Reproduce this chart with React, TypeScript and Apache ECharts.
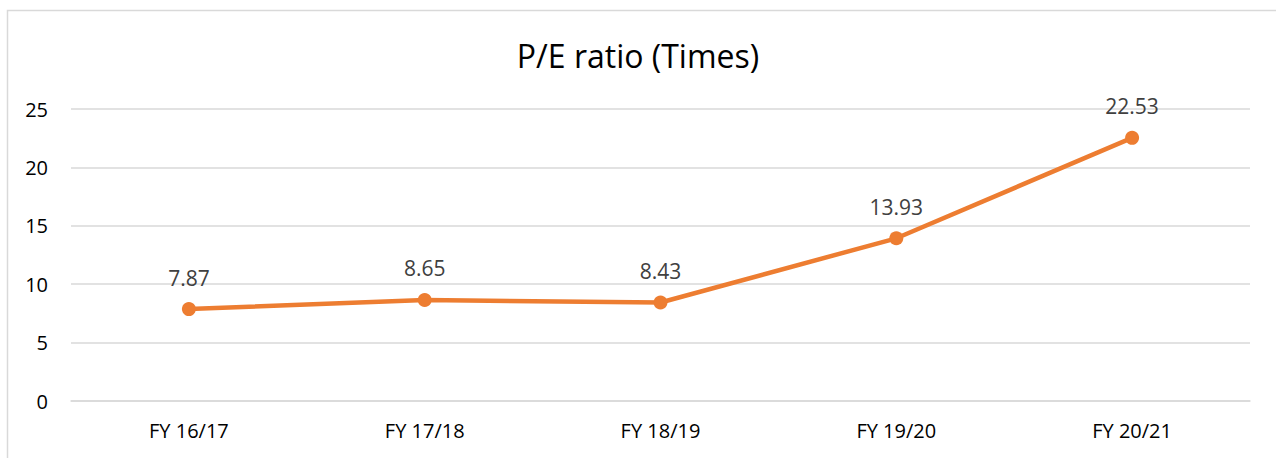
import React, { useEffect, useRef } from "react";
import * as echarts from "echarts";

const categories = ["FY 16/17", "FY 17/18", "FY 18/19", "FY 19/20", "FY 20/21"];
const peValues = [7.87, 8.65, 8.43, 13.93, 22.53];
const chartTitle = "P/E ratio (Times)";

export default function App() {
  const ref = useRef<HTMLDivElement>(null);
  useEffect(() => {
    if (!ref.current) return;
    const chart = echarts.init(ref.current, undefined, { renderer: "svg" });
    const font = "'Open Sans', 'Noto Sans', sans-serif";
    chart.setOption({
      animation: false,
      backgroundColor: "#ffffff",
      title: {
        text: chartTitle,
        left: "center",
        top: 34,
        textStyle: { fontFamily: font, fontSize: 32, fontWeight: "normal", color: "#000000" },
      },
      graphic: [
        {
          type: "rect",
          shape: { x: 7.5, y: 10.5, width: 1300, height: 500 },
          style: { fill: "none", stroke: "#d9d9d9", lineWidth: 1.5 },
          silent: true,
        },
      ],
      grid: { left: 71, right: 26, top: 109, bottom: 57, containLabel: false },
      xAxis: {
        type: "category",
        data: categories,
        boundaryGap: true,
        axisLine: { show: true, lineStyle: { color: "#d9d9d9", width: 1.5 } },
        axisTick: { show: false },
        axisLabel: { fontFamily: font, fontSize: 20, color: "#000000", margin: 19 },
      },
      yAxis: {
        type: "value",
        min: 0,
        max: 25,
        interval: 5,
        axisLine: { show: false },
        axisTick: { show: false },
        splitLine: { lineStyle: { color: "#d9d9d9", width: 1.5 } },
        axisLabel: { fontFamily: font, fontSize: 20, color: "#000000", margin: 23 },
      },
      series: [
        {
          type: "line",
          data: peValues,
          symbol: "circle",
          symbolSize: 14,
          lineStyle: { color: "#ED7D31", width: 4.5 },
          itemStyle: { color: "#ED7D31" },
          label: {
            show: true,
            position: "top",
            distance: 14,
            fontFamily: font,
            fontSize: 21,
            color: "#404040",
            formatter: (p: any) => p.value.toFixed(2),
          },
        },
      ],
    });
    return () => chart.dispose();
  }, []);
  return (
    <div
      ref={ref}
      style={{ position: "absolute", left: 0, top: 0, width: 1276, height: 458 }}
    />
  );
}
